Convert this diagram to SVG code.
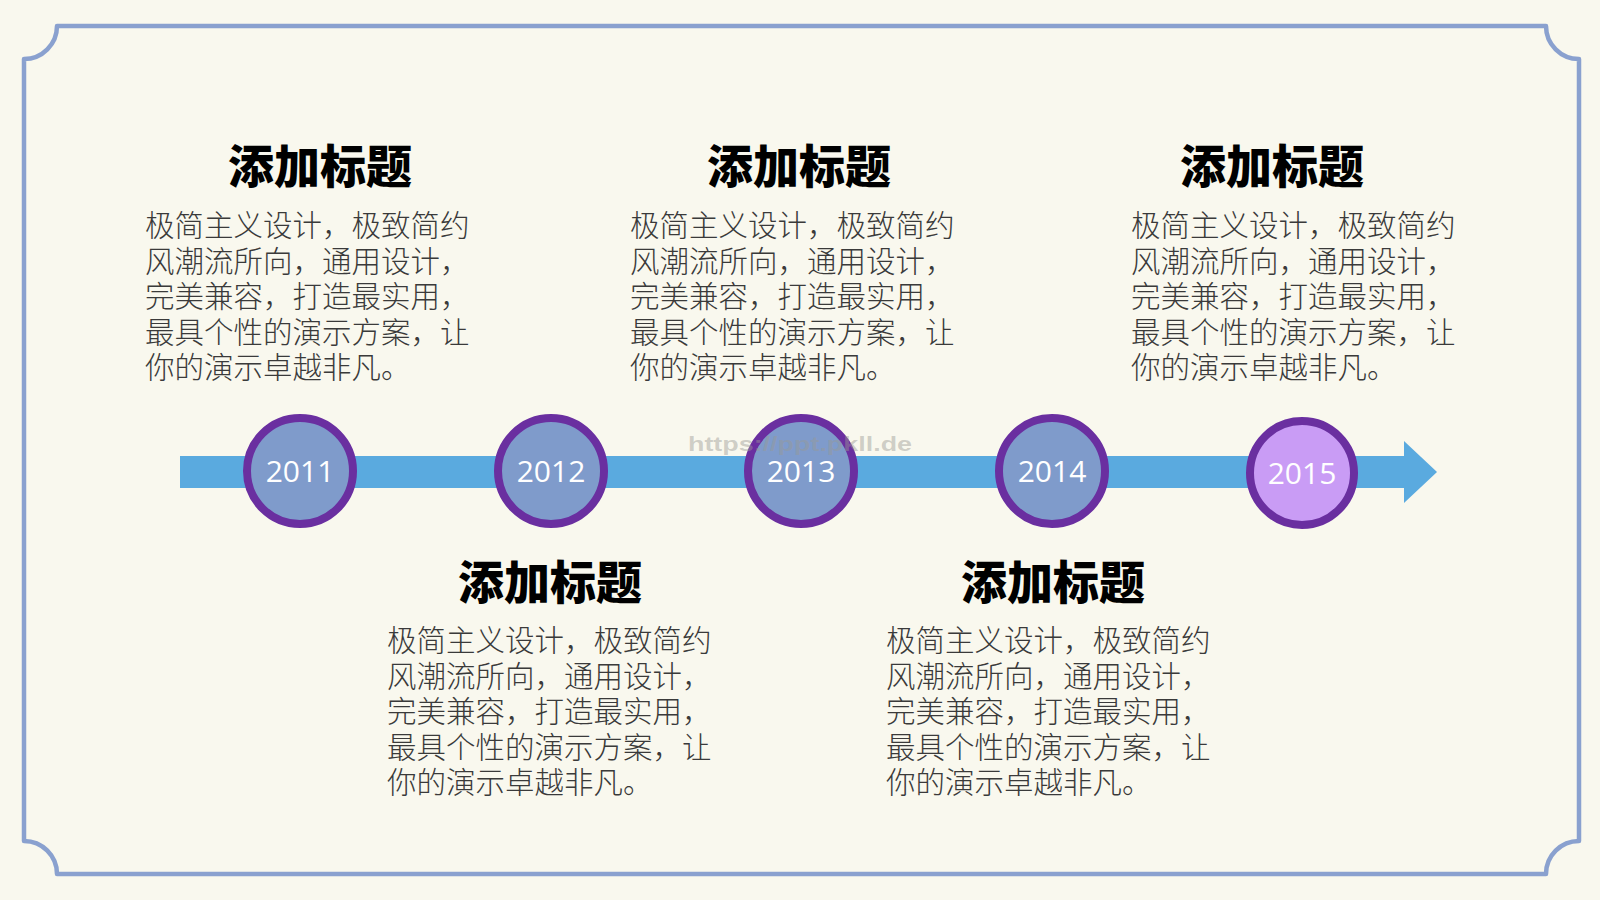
<svg xmlns="http://www.w3.org/2000/svg" width="1600" height="900" viewBox="0 0 1600 900">
  <style>
    .title { font-family: "Noto Sans CJK SC", "Noto Sans", sans-serif; font-weight: 900; font-size: 46px; fill: #000; text-anchor: middle; }
    .body { font-family: "Liberation Sans", "Noto Sans CJK SC", sans-serif; font-weight: 300; font-size: 29.5px; fill: #3a3a3a; }
    .year { font-family: "Open Sans", "Noto Sans", sans-serif; font-size: 30px; fill: #ffffff; text-anchor: middle; }
    .dot { fill: #7f9bcb; stroke: #6a2fa0; stroke-width: 8; }
    .dot.last { fill: #c99cf5; }
  </style>
  <rect x="0" y="0" width="1600" height="900" fill="#f9f8ee"/>
  <path d="M57,26 H1546 A33,33 0 0 0 1579,59 V841 A33,33 0 0 0 1546,874 H57 A33,33 0 0 0 24,841 V59 A33,33 0 0 0 57,26 Z" fill="none" stroke="#8aa1cf" stroke-width="4.5" stroke-linejoin="round"/>

  <g id="connectors">
    <rect x="180" y="456" width="1226" height="32" fill="#5aaadf"/>
    <polygon points="1404,441 1437,472 1404,503" fill="#5aaadf"/>
  </g>

  <g id="node-2011">
    <circle class="dot" cx="300" cy="471" r="53"/>
    <text class="year" x="300" y="482">2011</text>
    <text class="title" x="320" y="183">添加标题</text>
    <text class="body" y="236"><tspan x="145">极简主义设计，极致简约</tspan><tspan x="145" dy="35.5">风潮流所向，通用设计，</tspan><tspan x="145" dy="35.5">完美兼容，打造最实用，</tspan><tspan x="145" dy="35.5">最具个性的演示方案，让</tspan><tspan x="145" dy="35.5">你的演示卓越非凡。</tspan></text>
  </g>

  <g id="node-2012">
    <circle class="dot" cx="551" cy="471" r="53"/>
    <text class="year" x="551" y="482">2012</text>
    <text class="title" x="550" y="599">添加标题</text>
    <text class="body" y="651"><tspan x="387">极简主义设计，极致简约</tspan><tspan x="387" dy="35.5">风潮流所向，通用设计，</tspan><tspan x="387" dy="35.5">完美兼容，打造最实用，</tspan><tspan x="387" dy="35.5">最具个性的演示方案，让</tspan><tspan x="387" dy="35.5">你的演示卓越非凡。</tspan></text>
  </g>

  <g id="node-2013">
    <circle class="dot" cx="801" cy="471" r="53"/>
    <text class="year" x="801" y="482">2013</text>
    <text class="title" x="799" y="183">添加标题</text>
    <text class="body" y="236"><tspan x="630">极简主义设计，极致简约</tspan><tspan x="630" dy="35.5">风潮流所向，通用设计，</tspan><tspan x="630" dy="35.5">完美兼容，打造最实用，</tspan><tspan x="630" dy="35.5">最具个性的演示方案，让</tspan><tspan x="630" dy="35.5">你的演示卓越非凡。</tspan></text>
  </g>

  <g id="node-2014">
    <circle class="dot" cx="1052" cy="471" r="53"/>
    <text class="year" x="1052" y="482">2014</text>
    <text class="title" x="1053" y="599">添加标题</text>
    <text class="body" y="651"><tspan x="886">极简主义设计，极致简约</tspan><tspan x="886" dy="35.5">风潮流所向，通用设计，</tspan><tspan x="886" dy="35.5">完美兼容，打造最实用，</tspan><tspan x="886" dy="35.5">最具个性的演示方案，让</tspan><tspan x="886" dy="35.5">你的演示卓越非凡。</tspan></text>
  </g>

  <g id="node-2015">
    <circle class="dot last" cx="1302" cy="473" r="52"/>
    <text class="year" x="1302" y="484">2015</text>
    <text class="title" x="1272" y="183">添加标题</text>
    <text class="body" y="236"><tspan x="1131">极简主义设计，极致简约</tspan><tspan x="1131" dy="35.5">风潮流所向，通用设计，</tspan><tspan x="1131" dy="35.5">完美兼容，打造最实用，</tspan><tspan x="1131" dy="35.5">最具个性的演示方案，让</tspan><tspan x="1131" dy="35.5">你的演示卓越非凡。</tspan></text>
  </g>

  <text x="800" y="451" font-family="Liberation Sans, sans-serif" font-weight="bold" font-size="21" fill="#9a9a94" fill-opacity="0.45" text-anchor="middle" textLength="224" lengthAdjust="spacingAndGlyphs">https://ppt.pkll.de</text>
</svg>
